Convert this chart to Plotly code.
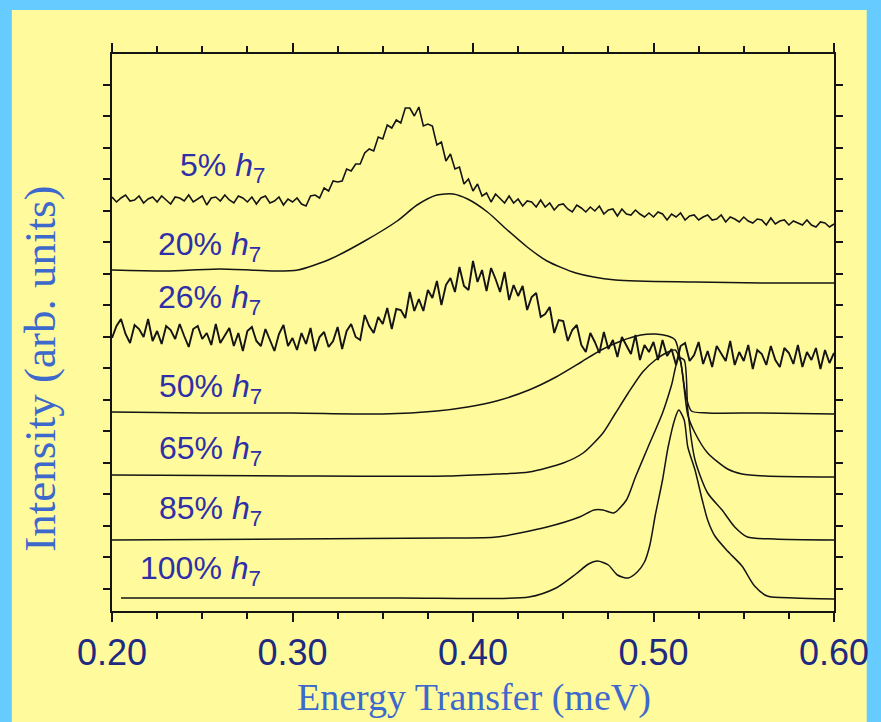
import numpy as np
import plotly.graph_objects as go

# Energy grid (meV) for the two noisy, low-concentration spectra
E_GRID = np.round(np.arange(0.200, 0.60001, 0.0025), 4)

# Spectra, vertically offset, intensity in arbitrary units
I_5 = [41.4, 40.9, 41.3, 41.6, 41.0, 41.1, 41.5, 40.8, 41.2, 41.4,
       40.9, 41.5, 41.1, 40.7, 41.4, 41.3, 41.0, 41.6, 40.9, 41.2,
       41.5, 40.6, 41.3, 41.4, 41.0, 41.6, 41.1, 40.8, 41.5, 41.3,
       40.9, 41.4, 40.7, 41.3, 41.5, 40.8, 41.0, 41.4, 40.6, 41.2,
       40.9, 41.3, 40.7, 40.5, 41.5, 41.6, 41.3, 42.3, 42.0, 43.0,
       42.9, 43.0, 44.2, 44.0, 44.7, 44.7, 45.8, 46.2, 46.0, 47.4,
       47.2, 48.6, 48.3, 49.1, 48.8, 50.3, 50.3, 49.5, 50.4, 48.5,
       48.7, 48.5, 46.6, 46.9, 45.0, 45.7, 44.2, 44.4, 42.7, 43.2,
       42.0, 42.7, 41.5, 41.8, 40.9, 41.7, 41.2, 40.8, 41.5, 40.8,
       41.2, 40.5, 41.0, 40.9, 40.4, 41.1, 40.4, 40.8, 40.1, 40.6,
       40.7, 40.2, 39.9, 40.6, 40.3, 39.9, 40.4, 40.0, 40.5, 39.7,
       40.1, 40.2, 39.5, 40.2, 39.7, 39.6, 40.1, 39.7, 39.4, 39.8,
       39.4, 39.9, 39.7, 39.1, 39.7, 39.4, 39.8, 39.1, 39.5, 39.6,
       39.1, 39.4, 39.6, 39.1, 39.2, 39.6, 38.9, 39.4, 39.2, 38.9,
       39.4, 39.0, 38.8, 39.2, 39.1, 38.6, 39.3, 38.7, 39.0, 39.1,
       38.6, 39.0, 38.8, 38.6, 39.1, 38.6, 38.4, 38.9, 38.8, 38.4,
       38.7]

I_26 = [27.3, 28.5, 29.2, 27.7, 26.8, 28.6, 28.2, 27.4, 29.2, 27.0,
        28.0, 26.7, 28.5, 28.1, 27.2, 28.7, 27.5, 26.4, 28.2, 28.5,
        27.2, 27.8, 26.6, 28.7, 26.8, 27.5, 28.3, 26.5, 27.8, 26.0,
        28.0, 28.4, 27.0, 26.5, 28.2, 27.1, 26.0, 27.7, 28.6, 26.5,
        27.3, 26.1, 27.8, 26.7, 28.3, 26.0, 27.4, 27.9, 26.4, 27.0,
        28.4, 26.2, 28.0, 28.7, 27.4, 27.1, 29.6, 28.5, 27.8, 29.4,
        28.7, 30.3, 28.2, 30.2, 30.1, 29.3, 31.9, 30.0, 31.2, 30.0,
        32.1, 31.3, 33.0, 30.6, 32.6, 33.3, 31.9, 34.4, 32.5, 32.1,
        35.0, 32.9, 34.1, 32.0, 34.3, 33.2, 31.9, 33.9, 31.1, 32.6,
        31.5, 32.5, 30.1, 31.4, 31.8, 29.4, 29.7, 30.4, 27.8, 29.1,
        29.0, 27.0, 28.1, 28.6, 26.6, 25.9, 27.8, 26.9, 25.8, 27.9,
        26.2, 27.1, 25.4, 27.4, 26.6, 25.7, 27.6, 25.1, 26.6, 25.9,
        26.9, 25.1, 27.1, 25.5, 26.2, 24.6, 26.5, 26.8, 25.0, 25.6,
        26.9, 24.7, 26.0, 24.4, 26.5, 25.7, 25.0, 27.0, 24.6, 25.9,
        25.0, 26.6, 24.2, 26.1, 25.7, 24.6, 26.5, 25.1, 24.4, 26.3,
        25.8, 24.7, 26.6, 24.4, 25.9, 25.1, 26.3, 24.2, 26.1, 24.8,
        25.8]

E_20 = [0.200, 0.230, 0.260, 0.290, 0.303, 0.321, 0.340, 0.358, 0.369, 0.380,
        0.389, 0.397, 0.408, 0.419, 0.430, 0.441, 0.457, 0.479, 0.523, 0.560, 0.600]
I_20 = [34.1, 34.0, 34.2, 34.0, 34.1, 35.2, 37.0, 39.0, 40.6, 41.6,
        41.7, 41.2, 39.9, 38.1, 36.4, 35.0, 33.8, 33.1, 32.9, 32.8, 32.8]

E_50 = [0.200, 0.250, 0.300, 0.350, 0.380, 0.397, 0.413, 0.431, 0.446, 0.460, 0.471,
        0.482, 0.493, 0.501, 0.508, 0.512, 0.515, 0.518, 0.521, 0.530, 0.560, 0.600]
I_50 = [19.9, 19.8, 19.8, 19.7, 20.0, 20.4, 21.0, 22.1, 23.4, 24.9, 26.1,
        27.0, 27.6, 27.7, 27.5, 27.1, 25.0, 21.5, 20.0, 19.8, 19.8, 19.7]

E_65 = [0.200, 0.300, 0.386, 0.413, 0.431, 0.450, 0.461, 0.472, 0.479, 0.486, 0.494,
        0.501, 0.508, 0.512, 0.515, 0.519, 0.523, 0.530, 0.541, 0.549, 0.562, 0.600]
I_65 = [13.6, 13.5, 13.5, 13.7, 13.9, 14.8, 15.8, 17.8, 19.8, 21.8, 23.9,
        25.1, 25.9, 26.1, 24.9, 19.6, 17.8, 15.8, 14.2, 13.7, 13.5, 13.4]

E_85 = [0.200, 0.300, 0.386, 0.413, 0.441, 0.459, 0.467, 0.472, 0.478, 0.485, 0.490, 0.497,
        0.505, 0.510, 0.514, 0.517, 0.519, 0.523, 0.530, 0.538, 0.545, 0.552, 0.567, 0.600]
I_85 = [7.1, 7.2, 7.3, 7.4, 8.4, 9.4, 10.1, 10.1, 9.8, 11.1, 13.4, 16.4,
        19.8, 22.6, 25.3, 25.1, 20.1, 15.1, 11.8, 10.1, 8.4, 7.4, 7.2, 7.1]

E_100 = [0.205, 0.358, 0.431, 0.446, 0.457, 0.464, 0.469, 0.475, 0.480, 0.486,
         0.491, 0.495, 0.498, 0.501, 0.505, 0.508, 0.512, 0.514, 0.517, 0.519,
         0.523, 0.527, 0.530, 0.534, 0.541, 0.549, 0.556, 0.563, 0.578, 0.600]
I_100 = [1.3, 1.3, 1.4, 2.3, 3.7, 4.7, 5.0, 4.6, 3.6, 3.3,
         3.9, 4.9, 6.6, 9.6, 13.1, 16.3, 19.3, 20.1, 19.1, 16.4,
         14.1, 11.1, 9.1, 7.5, 6.0, 4.5, 2.5, 1.5, 1.3, 1.2]

# Sample labels: text, energy of left edge, intensity of text centre
LABELS = ["5%", "20%", "26%", "50%", "65%", "85%", "100%"]
LABEL_E = [0.2363, 0.2241, 0.2241, 0.2247, 0.2247, 0.2247, 0.2143]
LABEL_I = [44.4, 36.5, 31.2, 22.3, 16.1, 10.1, 4.1]

X_TICKS = [0.20, 0.30, 0.40, 0.50, 0.60]
X_TICKTEXT = ["0.20", "0.30", "0.40", "0.50", "0.60"]

YELLOW = "#FFFB9C"
BLUE = "#66CCFF"
INK = "#141414"

fig = go.Figure()

noisy = [(E_GRID, I_5, 1.6), (E_GRID, I_26, 1.9)]
smooth = [(E_20, I_20), (E_50, I_50), (E_65, I_65), (E_85, I_85), (E_100, I_100)]

for ex, iy, w in noisy:
    fig.add_trace(go.Scatter(x=ex, y=iy, mode="lines",
                             line=dict(color=INK, width=w),
                             hoverinfo="skip", showlegend=False))
for ex, iy in smooth:
    fig.add_trace(go.Scatter(x=ex, y=iy, mode="lines",
                             line=dict(color=INK, width=1.5, shape="spline", smoothing=0.7),
                             hoverinfo="skip", showlegend=False))

for txt, ex, iy in zip(LABELS, LABEL_E, LABEL_I):
    fig.add_annotation(x=ex, y=iy, xref="x", yref="y",
                       text=f"{txt} <i>h</i><sub>7</sub>",
                       showarrow=False, xanchor="left", yanchor="middle",
                       font=dict(family="Liberation Sans, Arial, sans-serif",
                                 size=32, color="#2F2FA8"))

# Axis titles
fig.add_annotation(x=0.501, y=-0.155, xref="paper", yref="paper",
                   text="Energy Transfer (meV)", showarrow=False,
                   xanchor="center", yanchor="middle",
                   font=dict(family="Liberation Serif, Times New Roman, serif",
                             size=38, color="#3D68CC"))
fig.add_annotation(x=-0.099, y=0.434, xref="paper", yref="paper",
                   text="Intensity (arb. units)", showarrow=False, textangle=-90,
                   xanchor="center", yanchor="middle",
                   font=dict(family="Liberation Serif, Times New Roman, serif",
                             size=45, color="#3D68CC"))

# Yellow panel on the blue page
fig.add_shape(type="rect", xref="paper", yref="paper",
              x0=-0.1387, x1=1.0453, y0=-0.30, y1=1.079,
              fillcolor=YELLOW, line=dict(width=0), layer="below")

fig.update_layout(
    width=881, height=722,
    margin=dict(l=112, r=41, t=54, b=111),
    paper_bgcolor=BLUE, plot_bgcolor=YELLOW,
    showlegend=False,
)
fig.update_xaxes(
    range=[0.2, 0.6], tickvals=X_TICKS, ticktext=X_TICKTEXT,
    ticks="outside", ticklen=9, tickwidth=2, tickcolor=INK,
    showline=True, linecolor=INK, linewidth=2, mirror="allticks",
    showgrid=False, zeroline=False,
    tickfont=dict(family="Liberation Sans, Arial, sans-serif", size=36, color="#1E2A80"),
    minor=dict(dtick=0.025, tick0=0.2, ticks="outside", ticklen=6, tickwidth=1.5,
               tickcolor=INK, showgrid=False),
)
fig.update_yaxes(
    range=[0, 55.7], tick0=2.25, dtick=3.15, showticklabels=False,
    ticks="outside", ticklen=7, tickwidth=1.8, tickcolor=INK,
    showline=True, linecolor=INK, linewidth=2, mirror="allticks",
    showgrid=False, zeroline=False,
)

fig.write_html("out.html")
